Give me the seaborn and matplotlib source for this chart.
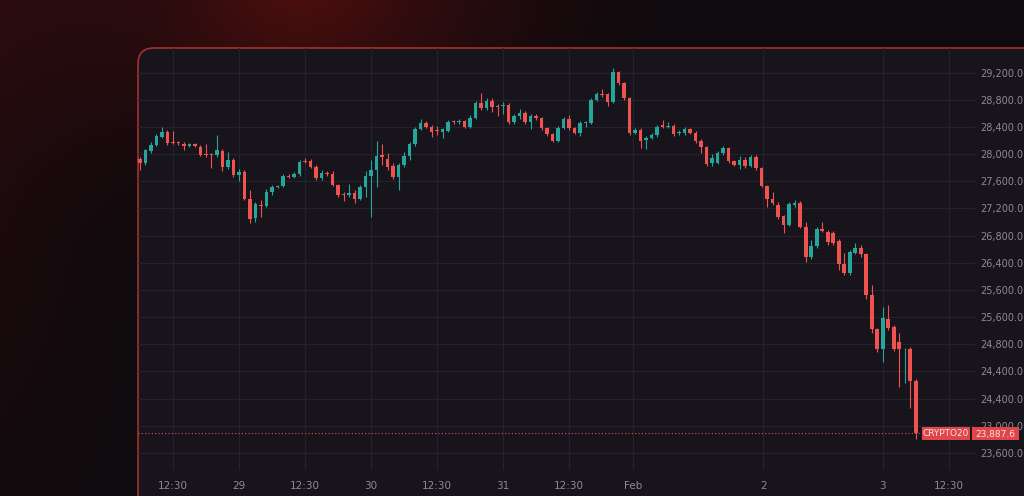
import numpy as np
import matplotlib
matplotlib.use("Agg")
import matplotlib.pyplot as plt
import seaborn as sns
from matplotlib.patches import FancyBboxPatch, Rectangle

sns.set_theme(style="dark")
plt.rcParams['font.family'] = ['DejaVu Sans']

opens = [27925,27865,28050,28135,28260,28320,28175,28170,28145,28125,
         28145,28100,28000,27995,27995,28050,27805,27915,27690,27740,
         27335,27055,27250,27235,27450,27520,27530,27680,27665,27705,
         27895,27895,27815,27645,27720,27715,27545,27410,27395,27435,
         27340,27520,27680,27765,27985,27930,27825,27670,27835,27980,
         28145,28370,28455,28405,28350,28325,28345,28480,28470,28485,
         28405,28540,28760,28675,28790,28705,28710,28725,28470,28565,
         28600,28480,28560,28530,28380,28295,28200,28390,28515,28380,
         28315,28455,28465,28800,28885,28880,28775,29205,29050,28820,
         28315,28355,28210,28245,28280,28430,28405,28415,28305,28305,
         28365,28315,28190,28100,27865,27875,28010,28085,27895,27840,
         27915,27825,27965,27790,27530,27335,27250,27090,26955,27255,
         27275,26930,26480,26640,26895,26860,26835,26720,26375,26245,
         26550,26615,26525,25925,25420,25125,25565,25460,25240,25125,
         25135,24665]
closes = [27865,28060,28135,28270,28320,28170,28165,28160,28120,28150,
          28120,27990,27990,27985,28055,27815,27915,27690,27740,27340,
          27045,27265,27235,27450,27520,27530,27680,27665,27705,27890,
          27885,27815,27645,27720,27705,27545,27400,27395,27435,27340,
          27520,27685,27765,27975,27965,27815,27670,27835,27980,28145,
          28370,28455,28405,28330,28340,28370,28480,28470,28485,28405,
          28540,28760,28675,28790,28700,28695,28725,28470,28560,28600,
          28480,28560,28530,28380,28295,28200,28390,28515,28380,28315,
          28455,28465,28800,28880,28870,28775,29205,29045,28820,28315,
          28355,28200,28235,28280,28405,28405,28415,28295,28320,28365,
          28315,28190,28100,27855,27940,28010,28085,27895,27840,27915,
          27825,27965,27790,27530,27335,27275,27080,26955,27260,27275,
          26930,26480,26650,26895,26870,26710,26695,26375,26245,26555,
          26615,26525,25925,25420,25125,25580,25435,25125,25125,25135,
          24665,23888]
wick_up = [30,20,50,30,80,30,160,30,30,20,
           20,30,150,20,225,20,110,30,40,30,
           130,30,80,30,30,20,30,30,30,30,
           50,30,30,40,30,40,20,30,125,30,
           30,70,150,225,160,80,40,30,50,30,
           30,60,30,20,60,20,30,30,30,20,
           30,30,135,30,30,30,40,30,30,70,
           30,30,30,20,20,20,30,30,60,20,
           30,30,20,40,70,20,60,20,20,20,
           30,30,30,30,30,75,60,30,30,30,
           20,20,30,20,60,30,35,20,20,60,
           50,30,20,20,20,115,50,20,30,50,
           30,75,90,30,110,20,30,30,165,30,
           80,50,20,150,20,175,210,25,120,10,
           20,20]
wick_dn = [100,30,30,20,20,30,20,20,60,20,
           20,20,30,185,30,70,20,30,80,20,
           60,50,160,20,50,20,20,20,20,20,
           20,20,30,20,30,20,30,90,20,55,
           20,145,600,245,120,50,40,200,30,60,
           20,20,20,80,60,80,20,30,20,20,
           20,20,30,20,80,130,120,20,20,40,
           30,110,20,20,30,20,20,20,20,20,
           50,50,20,20,30,70,20,20,20,30,
           20,110,135,20,20,20,20,30,30,20,
           20,20,80,30,40,20,20,20,20,60,
           30,20,20,20,110,20,30,120,20,30,
           20,70,30,20,20,50,40,80,20,20,
           20,40,60,60,35,180,20,20,550,490,
           410,90]

y_ticks = [29200,28800,28400,28000,27600,27200,26800,26400,26000,25600,25200,24800,24400,24000,23600]
y_labels = ["29,200.0","28,800.0","28,400.0","28,000.0","27,600.0","27,200.0","26,800.0","26,400.0",
            "25,600.0","25,600.0","24,800.0","24,400.0","24,400.0","23,000.0","23,600.0"]
x_ticks = [6,18,30,42,54,66,78,89.6,113.3,135,147]
x_labels = ["12:30","29","12:30","30","12:30","31","12:30","Feb","2","3","12:30"]
last_price = 23887.6
last_label = "23,887.6"
symbol = "CRYPTO20"

W, H = 1024, 496
fig = plt.figure(figsize=(W/100, H/100), dpi=100)
fig.patch.set_facecolor('#0e0b0f')

bg = fig.add_axes([0, 0, 1, 1], zorder=0)
yy, xx = np.mgrid[0:H, 0:W]
d = np.sqrt(((xx - 300) / 1.3) ** 2 + ((yy + 20)) ** 2)
g = np.clip(1 - d / 330, 0, 1) ** 2.0 * 0.75
d2 = np.clip(1 - xx / 150, 0, 1) * np.clip(1 - yy / 600, 0, 1)
g = np.clip(g + 0.25 * d2, 0, 1)
base = np.array([14, 10, 13]) / 255
glow = np.array([105, 16, 14]) / 255
img = base + (glow - base) * g[..., None]
bg.imshow(img, extent=[0, W, H, 0], aspect='auto')
bg.set_xlim(0, W); bg.set_ylim(H, 0); bg.axis('off')
panel = FancyBboxPatch((138, 48), 1000, 500, boxstyle="round,pad=0,rounding_size=16",
                       facecolor='#17141c', edgecolor='#a8302c', linewidth=1.2)
bg.add_patch(panel)

ax = fig.add_axes([138/W, (H-470)/H, (975-138)/W, (470-48)/H], zorder=1)
ax.patch.set_alpha(0)
up_c, dn_c = '#26a69a', '#ef5350'
n = len(opens)
idx = np.arange(n)
o = np.array(opens, float); c = np.array(closes, float)
hi = np.maximum(o, c) + np.array(wick_up); lo = np.minimum(o, c) - np.array(wick_dn)
cols = [up_c if cc >= oo else dn_c for oo, cc in zip(o, c)]
ax.vlines(idx, lo, hi, colors=cols, linewidth=0.8, zorder=3)
hgt = np.where(np.abs(c - o) < 12, 12, np.abs(c - o))
ax.bar(idx, hgt, bottom=np.minimum(o, c), width=0.7, color=cols, linewidth=0, zorder=4)
ax.axhline(last_price, ls=(0, (1, 2)), color='#e84b4f', lw=0.8, zorder=2)

ax.set_xlim(-0.36, 151.8)
ax.set_ylim(29200 - (470-72.7)*14.73, 29200 + (72.7-48)*14.73)
ax.set_yticks(y_ticks); ax.set_yticklabels(y_labels)
ax.set_xticks(x_ticks); ax.set_xticklabels(x_labels)
ax.yaxis.tick_right()
ax.tick_params(axis='y', colors='#8d8a94', labelsize=7, length=0, pad=4)
ax.tick_params(axis='x', colors='#8d8a94', labelsize=7.5, length=0, pad=8)
ax.grid(True, color='#26222c', linewidth=0.9)
for s in ax.spines.values():
    s.set_visible(False)

tr = bg.transData
fig.add_artist(Rectangle((922, 427), 48, 13, facecolor='#e0454a', edgecolor='none', transform=tr, zorder=5))
fig.add_artist(Rectangle((972, 427), 47, 13, facecolor='#e0454a', edgecolor='none', transform=tr, zorder=5))
fig.text(946, 434, symbol, transform=tr, ha='center', va='center', color='#fbe1e1', fontsize=6.5, zorder=6)
fig.text(995.5, 434, last_label, transform=tr, ha='center', va='center', color='#fbe1e1', fontsize=6.5, zorder=6)

fig.savefig('out.png', dpi=100, facecolor=fig.get_facecolor())
